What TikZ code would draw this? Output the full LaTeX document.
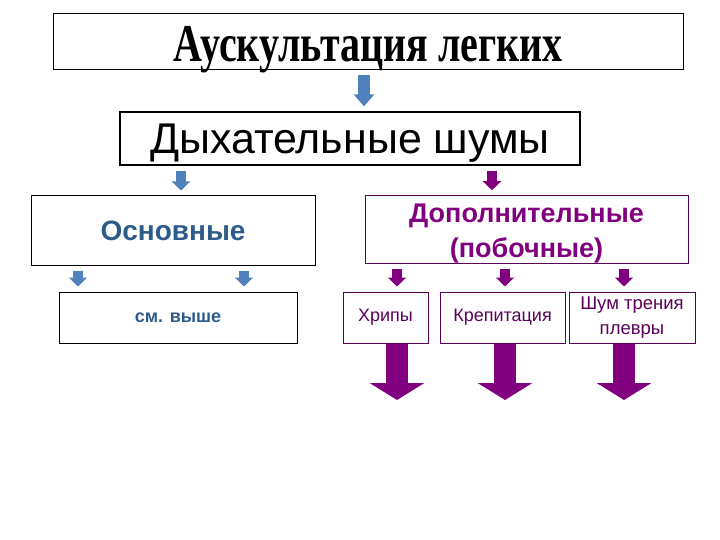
\documentclass[tikz,border=0pt]{standalone}
\usepackage{fontspec}
\usepackage{graphicx}
\setmainfont{Liberation Sans}
\newfontfamily\titlefont{Liberation Serif}
\usetikzlibrary{arrows.meta}
\definecolor{arrowblue}{HTML}{4F81BD}
\definecolor{textblue}{HTML}{2E5C8A}
\definecolor{plum}{HTML}{800080}
\definecolor{plumdark}{HTML}{5A005A}

\begin{document}
\begin{tikzpicture}[x=1pt, y=-1pt,
            box/.style={draw, line width=1pt, fill=white, inner sep=0pt, align=center},
            plumbox/.style={box, draw=plumdark},
            bluearr/.style={arrowblue, line width=10pt, -{Triangle[width=18pt, length=9pt]}, shorten <=5pt, shorten >=5pt},
            plumarr/.style={plum, line width=10pt, -{Triangle[width=18pt, length=9pt]}, shorten <=5pt, shorten >=5pt},
            bigarr/.style={plum, line width=22pt, -{Triangle[width=54pt, length=17pt]}}
            ]
            \useasboundingbox (0,0) rectangle (720,540);

            \node[box, minimum width=630, minimum height=56, text depth=0pt,
                font=\titlefont\bfseries\fontsize{40}{44}\selectfont] (top) at (368,42)
                {\raisebox{-3pt}{\scalebox{1}[1.33]{Аускультация легких}}};
            \node[box, line width=1.3pt, minimum width=460, minimum height=53, text depth=0pt,
                font=\fontsize{43}{46}\selectfont] (resp) at (350,138.5) {Дыхательные шумы};
            \node[box, minimum width=284, minimum height=69, text=textblue,
                font=\bfseries\fontsize{28}{32}\selectfont] (main) at (173,230.5) {Основные};
            \node[plumbox, minimum width=323, minimum height=67, text=plum,
                font=\bfseries\fontsize{27}{35}\selectfont] (extra) at (526.5,229.5)
                {\rule{0pt}{27pt}Дополнительные\\(побочные)};
            \node[box, minimum width=238, minimum height=51, text=textblue,
                font=\bfseries\fontsize{18}{22}\selectfont] (seeabove) at (178,317.5) {см. выше};
            \node[plumbox, minimum width=85, minimum height=51, text=plumdark,
                font=\fontsize{18}{22}\selectfont] (rales) at (385.5,317.5) {Хрипы};
            \node[plumbox, minimum width=125, minimum height=51, text=plumdark,
                font=\fontsize{18}{22}\selectfont] (crep) at (502.5,317.5) {Крепитация};
            \node[plumbox, minimum width=126, minimum height=51, text=plumdark,
                font=\fontsize{18.5}{25}\selectfont] (friction) at (632,317.5) {Шум трения\\плевры};

            % arrow positions
            \coordinate (a0) at (364,0);
            \coordinate (a1) at (181,0);
            \coordinate (a2) at (492,0);
            \coordinate (b1) at (78,0);
            \coordinate (b2) at (244,0);
            \coordinate (c1) at (397,400);
            \coordinate (c2) at (505,400);
            \coordinate (c3) at (624,400);

            \draw[bluearr, line width=12pt, -{Triangle[width=20pt, length=12pt]}] (a0 |- top.south) -- (a0 |- resp.north);
            \draw[bluearr] (a1 |- resp.south) -- (a1 |- main.north);
            \draw[plumarr] (a2 |- resp.south) -- (a2 |- extra.north);
            \draw[bluearr] (b1 |- main.south) -- (b1 |- seeabove.north);
            \draw[bluearr] (b2 |- main.south) -- (b2 |- seeabove.north);
            \draw[plumarr] (c1 |- extra.south) -- (c1 |- rales.north);
            \draw[plumarr] (c2 |- extra.south) -- (c2 |- crep.north);
            \draw[plumarr] (c3 |- extra.south) -- (c3 |- friction.north);
            \draw[bigarr] (c1 |- rales.south) -- (c1);
            \draw[bigarr] (c2 |- crep.south) -- (c2);
            \draw[bigarr] (c3 |- friction.south) -- (c3);

            \end{tikzpicture}
\end{document}
